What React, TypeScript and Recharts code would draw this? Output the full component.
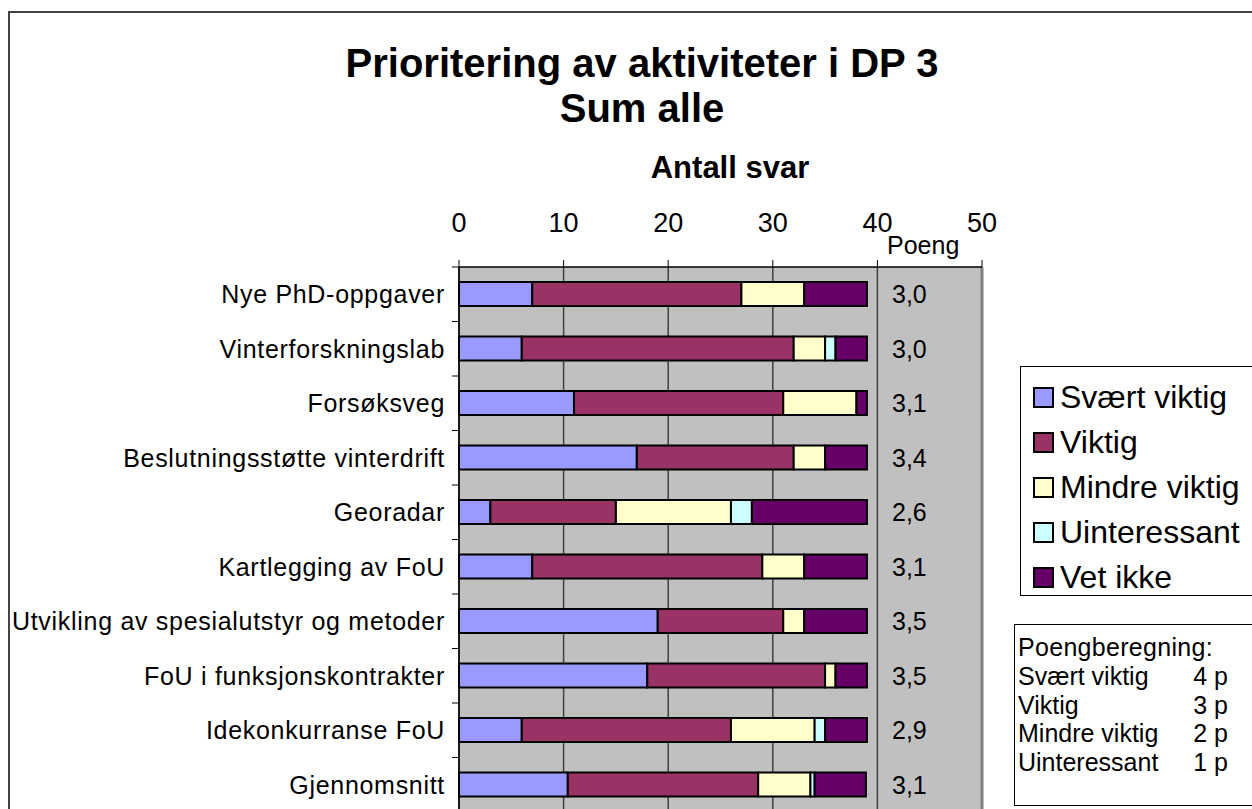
import React from "react";
import {
  BarChart,
  Bar,
  XAxis,
  YAxis,
  CartesianGrid,
  ReferenceLine,
  LabelList,
} from "recharts";

// ---------- data ----------
const categories = [
  "Nye PhD-oppgaver",
  "Vinterforskningslab",
  "Forsøksveg",
  "Beslutningsstøtte vinterdrift",
  "Georadar",
  "Kartlegging av FoU",
  "Utvikling av spesialutstyr og metoder",
  "FoU i funksjonskontrakter",
  "Idekonkurranse FoU",
  "Gjennomsnitt",
];
const svaertViktig = [7, 6, 11, 17, 3, 7, 19, 18, 6, 10.4];
const viktig = [20, 26, 20, 15, 12, 22, 12, 17, 20, 18.2];
const mindreViktig = [6, 3, 7, 3, 11, 4, 2, 1, 8, 5.0];
const uinteressant = [0, 1, 0, 0, 2, 0, 0, 0, 1, 0.4];
const vetIkke = [6, 3, 1, 4, 11, 6, 6, 3, 4, 4.9];
const poeng = ["3,0", "3,0", "3,1", "3,4", "2,6", "3,1", "3,5", "3,5", "2,9", "3,1"];
const xTicks = [0, 10, 20, 30, 40, 50];

const seriesNames = ["Svært viktig", "Viktig", "Mindre viktig", "Uinteressant", "Vet ikke"];
const seriesKeys = ["sv", "vi", "mv", "ui", "vk"];
const seriesValues = [svaertViktig, viktig, mindreViktig, uinteressant, vetIkke];
const seriesColors = ["#9999FF", "#993366", "#FFFFCC", "#CCFFFF", "#660066"];

const scoringLabels = ["Svært viktig", "Viktig", "Mindre viktig", "Uinteressant"];
const scoringPoints = ["4 p", "3 p", "2 p", "1 p"];

const data = categories.map((name, i) => {
  const row: Record<string, any> = { name, poeng: poeng[i] };
  seriesKeys.forEach((k, s) => {
    row[k] = seriesValues[s][i];
  });
  return row;
});

// ---------- layout ----------
const FONT = "'Liberation Sans', Arial, sans-serif";
const CHART_W = 1252;
const CHART_H = 840;
const PLOT_LEFT = 459;
const PLOT_RIGHT = 982;
const PLOT_TOP = 267;
const PLOT_BOTTOM = 812;
const X_AXIS_H = 60;
const Y_AXIS_W = 440;
const BAND = (PLOT_BOTTOM - PLOT_TOP) / categories.length;
const POENG_X = 892;

const CatTick = (props: any) => {
  const { y, payload } = props;
  return (
    <g>
      <text
        x={PLOT_LEFT - 14}
        y={y}
        textAnchor="end"
        dominantBaseline="central"
        fontSize={25}
        letterSpacing={0.7}
        fontFamily={FONT}
        fill="#000"
      >
        {payload.value}
      </text>
      <line
        x1={PLOT_LEFT - 7}
        x2={PLOT_LEFT}
        y1={y - BAND / 2}
        y2={y - BAND / 2}
        stroke="#000"
        strokeWidth={1}
      />
    </g>
  );
};

const PoengLabel = (props: any) => {
  const { y, height, value } = props;
  return (
    <text
      x={POENG_X}
      y={y + height / 2}
      dominantBaseline="central"
      fontSize={25}
      fontFamily={FONT}
      fill="#000"
    >
      {value}
    </text>
  );
};

export default function App() {
  return (
    <div
      style={{
        position: "absolute",
        left: 0,
        top: 0,
        width: 1252,
        height: 809,
        overflow: "hidden",
        background: "#fff",
        fontFamily: FONT,
      }}
    >
      {/* outer chart border */}
      <div
        style={{
          position: "absolute",
          left: 8,
          top: 11,
          width: 1400,
          height: 1000,
          borderLeft: "2px solid #444",
          borderTop: "2px solid #444",
        }}
      />
      <div style={{ position: "absolute", left: 0, top: 0 }}>
        <BarChart
          layout="vertical"
          width={CHART_W}
          height={CHART_H}
          data={data}
          margin={{
            top: PLOT_TOP - X_AXIS_H,
            right: CHART_W - PLOT_RIGHT,
            bottom: CHART_H - PLOT_BOTTOM,
            left: PLOT_LEFT - Y_AXIS_W,
          }}
          barSize={24}
        >
          <CartesianGrid
            horizontal={false}
            stroke="#404040"
            strokeWidth={1.5}
            fill="#C0C0C0"
            fillOpacity={1}
          />
          <XAxis
            type="number"
            orientation="top"
            domain={[0, 50]}
            ticks={xTicks}
            interval={0}
            height={X_AXIS_H}
            tickSize={7}
            tickMargin={28}
            tick={{ fontSize: 27, fill: "#000", fontFamily: FONT }}
            axisLine={{ stroke: "#000", strokeWidth: 1.5 }}
            tickLine={{ stroke: "#000", strokeWidth: 1 }}
          />
          <YAxis
            type="category"
            dataKey="name"
            width={Y_AXIS_W}
            interval={0}
            tick={<CatTick />}
            tickLine={false}
            axisLine={{ stroke: "#000", strokeWidth: 1.5 }}
          />
          <ReferenceLine x={50} stroke="#808080" strokeWidth={3} />
          {seriesKeys.map((k, s) => (
            <Bar
              key={k}
              dataKey={k}
              name={seriesNames[s]}
              stackId="a"
              fill={seriesColors[s]}
              stroke="#000"
              strokeWidth={2}
              isAnimationActive={false}
            >
              {s === seriesKeys.length - 1 ? (
                <LabelList dataKey="poeng" content={<PoengLabel />} />
              ) : null}
            </Bar>
          ))}
        </BarChart>
      </div>

      {/* titles and extra text */}
      <svg
        width={1252}
        height={809}
        style={{ position: "absolute", left: 0, top: 0, pointerEvents: "none" }}
      >
        <text x={642} y={77} textAnchor="middle" fontSize={40} fontWeight="bold" fontFamily={FONT} fill="#000">
          Prioritering av aktiviteter i DP 3
        </text>
        <text x={642} y={122} textAnchor="middle" fontSize={40} fontWeight="bold" fontFamily={FONT} fill="#000">
          Sum alle
        </text>
        <text x={730} y={178} textAnchor="middle" fontSize={31} fontWeight="bold" fontFamily={FONT} fill="#000">
          Antall svar
        </text>
        <text x={887} y={254} fontSize={25} fontFamily={FONT} fill="#000">
          Poeng
        </text>
      </svg>

      {/* legend */}
      <div
        style={{
          position: "absolute",
          left: 1020,
          top: 366,
          width: 240,
          height: 230,
          border: "1px solid #000",
          background: "#fff",
          boxSizing: "border-box",
        }}
      >
        {seriesNames.map((n, s) => (
          <div
            key={n}
            style={{
              position: "absolute",
              left: 12,
              top: 18 + s * 45,
              height: 24,
              display: "flex",
              alignItems: "center",
              whiteSpace: "nowrap",
            }}
          >
            <div
              style={{
                width: 21,
                height: 21,
                background: seriesColors[s],
                border: "2px solid #000",
                boxSizing: "border-box",
                marginRight: 6,
              }}
            />
            <span style={{ fontSize: 32, lineHeight: "24px", color: "#000" }}>{n}</span>
          </div>
        ))}
      </div>

      {/* scoring box */}
      <div
        style={{
          position: "absolute",
          left: 1014,
          top: 624,
          width: 240,
          height: 182,
          border: "1.5px solid #000",
          background: "#fff",
          boxSizing: "border-box",
        }}
      />
      <svg
        width={1252}
        height={809}
        style={{ position: "absolute", left: 0, top: 0, pointerEvents: "none" }}
      >
        <text x={1018} y={656} fontSize={25} letterSpacing={0.3} fontFamily={FONT} fill="#000">
          Poengberegning:
        </text>
        {scoringLabels.map((l, i) => (
          <g key={l}>
            <text x={1018} y={685 + i * 28.5} fontSize={25} fontFamily={FONT} fill="#000">
              {l}
            </text>
            <text x={1228} y={685 + i * 28.5} textAnchor="end" fontSize={25} fontFamily={FONT} fill="#000">
              {scoringPoints[i]}
            </text>
          </g>
        ))}
      </svg>
    </div>
  );
}
